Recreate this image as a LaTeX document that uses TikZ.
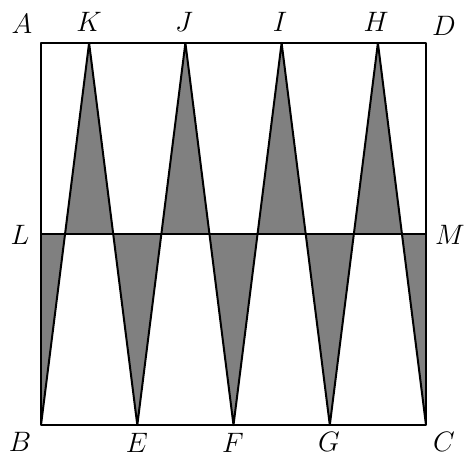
\documentclass[tikz,border=0pt]{standalone}
\tikzset{
  edge/.style={line width=2bp, line join=round},
  shade/.style={fill={rgb,255:red,128;green,128;blue,128}},
  lab/.style={font=\large, scale=2.35, transform shape, inner sep=0pt}
}
\begin{document}
\begin{tikzpicture}[x=1bp,y=-1bp]
\useasboundingbox (0,0) rectangle (464,457);
% corners
\coordinate (A) at (41,43);
\coordinate (D) at (426,43);
\coordinate (B) at (41,425);
\coordinate (C) at (426,425);
\coordinate (K) at (89.1,43);
\coordinate (J) at (185.4,43);
\coordinate (I) at (281.6,43);
\coordinate (H) at (377.9,43);
\coordinate (E) at (137.3,425);
\coordinate (F) at (233.5,425);
\coordinate (G) at (329.8,425);
\coordinate (L) at (41,234);
\coordinate (M) at (426,234);
% crossings on LM
\coordinate (p1) at (65.1,234);
\coordinate (p2) at (113.2,234);
\coordinate (p3) at (161.3,234);
\coordinate (p4) at (209.4,234);
\coordinate (p5) at (257.6,234);
\coordinate (p6) at (305.7,234);
\coordinate (p7) at (353.8,234);
\coordinate (p8) at (401.9,234);
% shaded triangles
\fill[shade] (K) -- (p1) -- (p2) -- cycle;
\fill[shade] (J) -- (p3) -- (p4) -- cycle;
\fill[shade] (I) -- (p5) -- (p6) -- cycle;
\fill[shade] (H) -- (p7) -- (p8) -- cycle;
\fill[shade] (L) -- (B) -- (p1) -- cycle;
\fill[shade] (E) -- (p2) -- (p3) -- cycle;
\fill[shade] (F) -- (p4) -- (p5) -- cycle;
\fill[shade] (G) -- (p6) -- (p7) -- cycle;
\fill[shade] (C) -- (M) -- (p8) -- cycle;
% lines
\draw[edge] (A) -- (D) -- (C) -- (B) -- cycle;
\draw[edge] (L) -- (M);
\draw[edge] (B) -- (K) -- (E) -- (J) -- (F) -- (I) -- (G) -- (H) -- (C);
% labels
\node[lab] (lA) at (22,24) {$A$};
\node[lab] (lK) at (89,22) {$K$};
\node[lab] (lJ) at (184,22) {$J$};
\node[lab] (lI) at (280,22) {$I$};
\node[lab] (lH) at (376,22) {$H$};
\node[lab] (lD) at (444,26) {$D$};
\node[lab] (lL) at (20,235) {$L$};
\node[lab] (lM) at (450,235) {$M$};
\node[lab] (lB) at (20,442) {$B$};
\node[lab] (lE) at (137,443) {$E$};
\node[lab] (lF) at (233,443) {$F$};
\node[lab] (lG) at (329,442) {$G$};
\node[lab] (lC) at (444,442) {$C$};
\end{tikzpicture}
\end{document}
